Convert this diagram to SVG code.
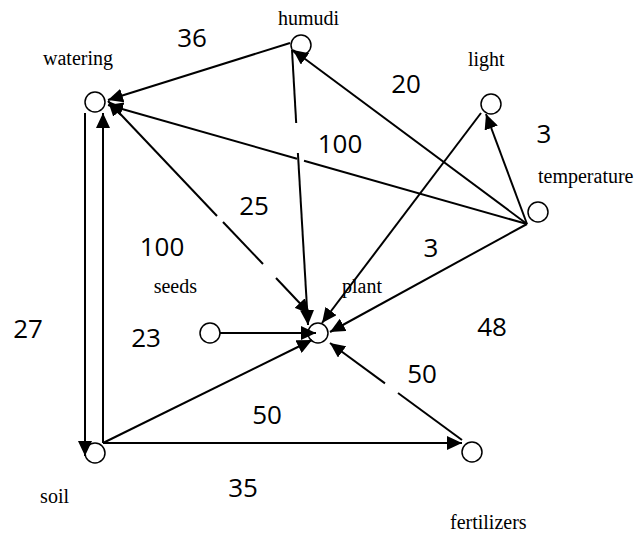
<svg xmlns="http://www.w3.org/2000/svg" width="638" height="533" viewBox="0 0 638 533">
<style>
.node circle{fill:#fff;stroke:#000;stroke-width:1.5}
.lbl{font-family:"Liberation Serif","Times New Roman",serif;font-size:20px;fill:#000}
.num{font-family:"Open Sans","Liberation Sans",sans-serif;font-size:26px;fill:#000}
.edge{stroke:#000;stroke-width:2;fill:none}
</style>
<defs>
<marker id="ah" markerUnits="userSpaceOnUse" markerWidth="16" markerHeight="14" viewBox="0 0 16 14" refX="15" refY="7" orient="auto-start-reverse">
<path d="M0,0 L15,7 L0,14 z" fill="#000"/>
</marker>
</defs>
<g id="watering" class="node"><circle cx="95" cy="102" r="10"/><text class="lbl" x="113" y="65" text-anchor="end">watering</text></g>
<g id="humudi" class="node"><circle cx="301" cy="45" r="10"/><text class="lbl" x="278" y="25">humudi</text></g>
<g id="light" class="node"><circle cx="491" cy="104" r="10"/><text class="lbl" x="468" y="66">light</text></g>
<g id="temperature" class="node"><circle cx="538" cy="212" r="10"/><text class="lbl" x="538" y="183">temperature</text></g>
<g id="seeds" class="node"><circle cx="210" cy="333" r="10"/><text class="lbl" x="197" y="293" text-anchor="end">seeds</text></g>
<g id="plant" class="node"><circle cx="318" cy="333" r="10"/><text class="lbl" x="342" y="293">plant</text></g>
<g id="soil" class="node"><circle cx="95" cy="453" r="10"/><text class="lbl" x="69" y="503" text-anchor="end">soil</text></g>
<g id="fertilizers" class="node"><circle cx="472" cy="452" r="10"/><text class="lbl" x="450" y="529">fertilizers</text></g>
<g id="connectors">
<line class="edge" x1="290" y1="43" x2="108" y2="100" marker-end="url(#ah)"/>
<line class="edge" x1="527" y1="224" x2="304" y2="160.7"/>
<line class="edge" x1="297" y1="158.7" x2="108" y2="105" marker-end="url(#ah)"/>
<line class="edge" x1="217" y1="216" x2="108" y2="101" marker-end="url(#ah)"/>
<line class="edge" x1="223" y1="222" x2="263" y2="264"/>
<line class="edge" x1="276" y1="278" x2="310" y2="314" marker-end="url(#ah)"/>
<line class="edge" x1="292" y1="50" x2="296.2" y2="123"/>
<line class="edge" x1="297.9" y1="153" x2="308" y2="325" marker-end="url(#ah)"/>
<line class="edge" x1="527" y1="224" x2="293" y2="50" marker-end="url(#ah)"/>
<line class="edge" x1="527" y1="224" x2="486" y2="114" marker-end="url(#ah)"/>
<line class="edge" x1="527" y1="224" x2="330" y2="332" marker-end="url(#ah)"/>
<line class="edge" x1="481" y1="113" x2="322" y2="323" marker-end="url(#ah)"/>
<line class="edge" x1="220" y1="333" x2="316" y2="333" marker-end="url(#ah)"/>
<line class="edge" x1="103" y1="443" x2="312" y2="340" marker-end="url(#ah)"/>
<line class="edge" x1="462" y1="440" x2="398" y2="393"/>
<line class="edge" x1="385" y1="383.4" x2="330" y2="343" marker-end="url(#ah)"/>
<line class="edge" x1="103" y1="443" x2="462" y2="443" marker-end="url(#ah)"/>
<line class="edge" x1="85" y1="113" x2="85" y2="456" marker-end="url(#ah)"/>
<line class="edge" x1="103" y1="443" x2="103" y2="113" marker-end="url(#ah)"/>
</g>
<g id="weights">
<text class="num" x="192" y="47" text-anchor="middle">36</text>
<text class="num" x="406" y="93" text-anchor="middle">20</text>
<text class="num" x="544" y="143" text-anchor="middle">3</text>
<text class="num" x="340" y="153" text-anchor="middle">100</text>
<text class="num" x="254" y="215" text-anchor="middle">25</text>
<text class="num" x="431" y="257" text-anchor="middle">3</text>
<text class="num" x="162" y="256" text-anchor="middle">100</text>
<text class="num" x="28" y="338" text-anchor="middle">27</text>
<text class="num" x="146" y="347" text-anchor="middle">23</text>
<text class="num" x="492" y="336" text-anchor="middle">48</text>
<text class="num" x="422" y="383" text-anchor="middle">50</text>
<text class="num" x="267" y="424" text-anchor="middle">50</text>
<text class="num" x="243" y="497" text-anchor="middle">35</text>
</g>
</svg>
